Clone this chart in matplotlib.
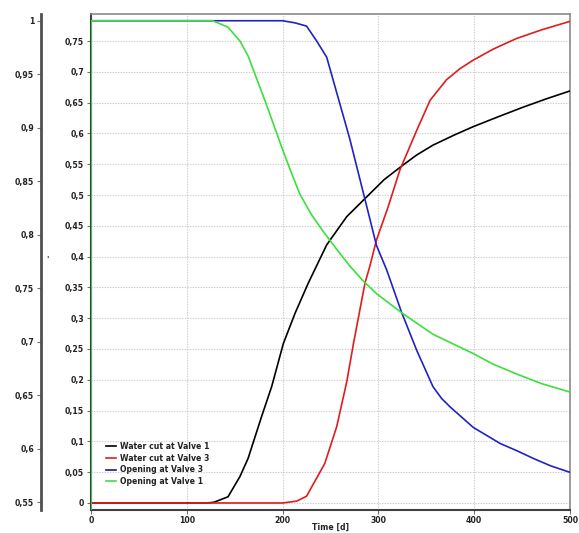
import matplotlib
matplotlib.use("Agg")
import matplotlib.pyplot as plt
from matplotlib.ticker import FuncFormatter, MultipleLocator

# ---- data ----
t_wc1 = [0, 120, 128, 143, 155.5, 164, 178, 188.6, 200.8, 213, 226.8, 246, 267,
         287.8, 306, 326, 340, 357, 380, 399, 425, 450, 475, 500]
wc1 = [0, 0, 0.001, 0.010, 0.043, 0.0725, 0.14, 0.189, 0.259, 0.308, 0.357,
       0.419, 0.465, 0.497, 0.525, 0.549, 0.565, 0.581, 0.598, 0.611, 0.627,
       0.642, 0.656, 0.669]

t_wc3 = [0, 200, 214.7, 225, 244, 256.5, 267, 274, 286, 291, 298, 310, 322.5,
         340, 354, 371, 385, 399, 420, 444, 470, 500]
wc3 = [0, 0, 0.003, 0.011, 0.064, 0.124, 0.197, 0.259, 0.357, 0.384, 0.427,
       0.48, 0.541, 0.605, 0.654, 0.687, 0.705, 0.719, 0.737, 0.754, 0.768,
       0.782]

t_op3 = [0, 0, 200, 213, 225, 235.6, 246, 258, 270, 286, 298, 308.7, 324, 340,
         357, 366, 375, 399, 427, 445, 461.7, 480, 500]
op3 = [0, 1, 1, 0.998, 0.995, 0.981, 0.966, 0.928, 0.89, 0.833, 0.79, 0.767,
       0.728, 0.692, 0.658, 0.647, 0.639, 0.620, 0.605, 0.598, 0.591, 0.584,
       0.578]

t_op1 = [0, 0, 127, 143, 155.5, 164, 183, 199, 210, 218, 230, 242.5, 256, 270,
         284, 298, 326, 357, 378, 399, 420, 444, 470, 500]
op1 = [0, 1, 1, 0.994, 0.981, 0.967, 0.922, 0.882, 0.856, 0.838, 0.819, 0.803,
       0.787, 0.771, 0.757, 0.745, 0.726, 0.707, 0.698, 0.689, 0.679, 0.670,
       0.661, 0.653]

labels = ["Water cut at Valve 1", "Water cut at Valve 3",
          "Opening at Valve 3", "Opening at Valve 1"]

# ---- styling ----
FS = 5.6
plt.rcParams['font.family'] = ['DejaVu Sans']
W, H = 579, 533
fig = plt.figure(figsize=(W / 100, H / 100), dpi=100)
L, R, T, B = 91, 570, 14, 510
ax = fig.add_axes([L / W, 1 - B / H, (R - L) / W, (B - T) / H])

comma = FuncFormatter(lambda v, p: f"{v:g}".replace('.', ','))

l1, = ax.plot(t_wc1, wc1, color='#000000', lw=1.2, zorder=3)
l2, = ax.plot(t_wc3, wc3, color='#e01c1c', lw=1.2, zorder=3)
ax.set_xlim(0, 500)
ax.set_ylim(-0.0114, 0.7939)
ax.yaxis.set_major_locator(MultipleLocator(0.05))
ax.xaxis.set_major_locator(MultipleLocator(100))
ax.yaxis.set_major_formatter(comma)
ax.grid(True, color='#cccccc', linestyle=(0, (1.2, 1.2)), lw=0.8)
ax.set_axisbelow(True)

ax2 = ax.twinx()
l3, = ax2.plot(t_op3, op3, color='#2222c4', lw=1.2)
l4, = ax2.plot(t_op1, op1, color='#3ede3e', lw=1.2)
ax2.set_ylim(0.5428, 1.0063)
ax2.yaxis.set_major_locator(MultipleLocator(0.05))
ax2.yaxis.set_major_formatter(comma)
ax2.yaxis.set_ticks_position('left')
ax2.yaxis.set_label_position('left')
ax2.spines['left'].set_position(('axes', -50 / (R - L)))
ax2.spines['left'].set_color('#505050')
ax2.spines['left'].set_linewidth(2)
for s in ['right', 'top', 'bottom']:
    ax2.spines[s].set_visible(False)

for s in ['top', 'right']:
    ax.spines[s].set_color('#8a8a8a')
    ax.spines[s].set_linewidth(1.2)
for s in ['left', 'bottom']:
    ax.spines[s].set_color('#404040')
    ax.spines[s].set_linewidth(1.5)

for a in (ax, ax2):
    a.tick_params(axis='both', labelsize=FS, length=3, width=0.8,
                  color='#707070', pad=2, labelcolor='#222222')
    for lab in a.get_xticklabels() + a.get_yticklabels():
        lab.set_fontweight('bold')
ax.tick_params(axis='x', pad=1)

ax.set_xlabel("Time [d]", fontsize=FS, fontweight='bold', labelpad=-1,
              color='#222222')

leg = ax2.legend([l1, l2, l3, l4], labels, loc='upper left',
                 bbox_to_anchor=(0.025, 0.143), frameon=False,
                 prop={'size': FS, 'weight': 'bold'}, handlelength=1.3,
                 handletextpad=0.5, labelspacing=0.33, borderaxespad=0)
leg.legend_handles[2].set_color('#1a1a80')
for txt in leg.get_texts():
    txt.set_color('#222222')

fig.text(47 / W, 1 - 260 / H, "'", fontsize=FS, fontweight='bold',
         ha='center', va='center', color='#222222')

fig.savefig("out.png", dpi=100)
